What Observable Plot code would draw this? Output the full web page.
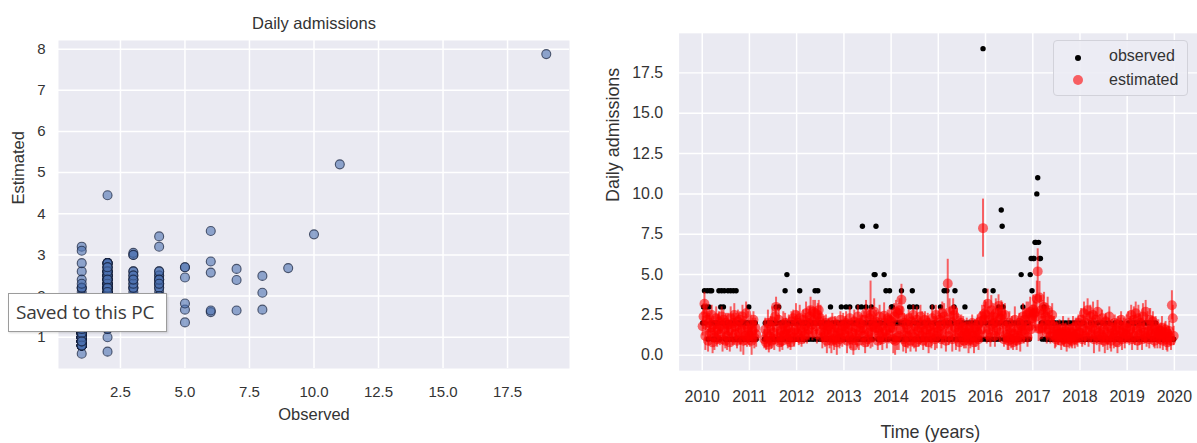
<!DOCTYPE html>
<html>
<head>
<meta charset="utf-8">
<script src="https://cdn.jsdelivr.net/npm/d3@7"></script>
<script src="https://cdn.jsdelivr.net/npm/@observablehq/plot@0.6"></script>
<style>
  html, body { margin: 0; padding: 0; background: #fff; width: 1197px; height: 443px; overflow: hidden; position: relative; }
  #left { position: absolute; left: 0; top: 0; }
  #right { position: absolute; left: 600px; top: 0; }
  #legend { position: absolute; left: 1053px; top: 40px; width: 135px; height: 56px; box-sizing: border-box;
    border: 1px solid #d2d2da; border-radius: 4px; background: rgba(236,236,244,0.9);
    font: 16px "Liberation Sans", Arial, sans-serif; color: #333; }
  #legend .mk { position: absolute; border-radius: 50%; }
  #legend .lt { position: absolute; left: 55px; line-height: 18px; }
  #toast { position: absolute; left: 8px; top: 293px; width: 159px; height: 39px; box-sizing: border-box;
    border: 1px solid #9c9c9c; background: #fff; box-shadow: 1px 1px 2px rgba(0,0,0,0.15);
    font: 19px "Open Sans", "Noto Sans", sans-serif; color: #3a3a3a; line-height: 36px; padding-left: 7px; white-space: nowrap; letter-spacing: -0.2px; }
</style>
</head>
<body>
<div id="left"></div>
<div id="right"></div>
<div id="legend">
  <span class="mk" style="left:21px;top:14px;width:6px;height:6px;background:#000"></span>
  <span class="lt" style="top:6px">observed</span>
  <span class="mk" style="left:19px;top:34px;width:10px;height:10px;background:rgba(255,0,0,0.6)"></span>
  <span class="lt" style="top:30px">estimated</span>
</div>
<div id="toast">Saved to this PC</div>
<script>
// ---------- data (weekly, one row per week; years 2010-2019) ----------
const years = [2010, 2011, 2012, 2013, 2014, 2015, 2016, 2017, 2018, 2019];

const observed = [
  [2,3,4,2,3,4,1,3,4,2,4,1,2,1,1,2,1,2,4,1,3,4,2,3,4,1,2,1,4,2,1,4,2,1,4,2,1,4,1,2,1,2,1,1,2,1,2,1,2,1,2,3],
  [1,2,1,1,2,1,2,1,null,null,null,null,null,null,null,null,1,2,1,1,2,2,1,2,1,2,1,1,2,3,2,1,3,1,2,1,1,2,1,4,2,5,1,2,1,1,2,1,2,1,1,2],
  [1,2,1,4,2,1,1,2,1,2,1,2,1,2,1,2,2,1,2,1,4,2,1,4,2,1,2,1,1,2,1,1,2,1,1,2,1,3,1,2,1,1,2,1,1,2,1,1,2,3,1,2],
  [1,2,3,1,2,1,3,1,2,1,1,2,1,2,1,3,1,2,1,3,8,1,2,1,3,2,1,1,2,2,3,1,2,5,5,8,2,1,1,2,1,2,1,1,5,2,4,1,2,1,4,2],
  [3,3,1,2,1,2,1,2,1,2,1,4,2,1,2,1,1,2,1,2,3,1,2,4,3,1,2,1,3,2,1,1,2,1,2,1,1,2,1,1,2,1,2,1,1,3,1,2,1,2,1,1],
  [1,2,3,1,2,1,4,2,1,4,2,1,2,1,2,1,2,3,4,1,2,1,2,1,1,2,1,2,1,3,1,2,1,1,2,1,1,2,1,1,2,1,1,2,1,1,2,1,2,19,1,4],
  [2,1,1,1,2,1,2,1,4,2,1,2,1,2,3,1,2,9,8,3,1,2,1,2,1,1,2,1,1,2,1,1,2,1,1,2,1,2,1,5,2,3,1,2,1,2,1,2,1,5,6,4],
  [6,6,7,7,10,11,7,6,6,2,1,2,3,1,2,1,2,1,2,1,1,2,1,2,2,1,1,2,1,1,2,1,1,2,1,1,2,1,1,2,1,2,1,1,2,1,1,2,1,1,2,1],
  [1,2,1,1,2,1,1,1,1,1,1,2,1,1,2,1,1,1,1,2,1,1,1,1,2,1,1,1,2,1,1,1,2,1,1,1,1,1,2,1,1,1,1,1,1,2,1,1,1,1,1,1],
  [1,2,1,1,2,1,1,2,1,2,1,1,2,1,2,1,1,2,1,1,2,1,2,1,1,2,1,1,2,1,1,2,1,1,1,1,1,1,1,1,1,1,1,1,1,1,1,1,1,1,1,1]
];

const estimated = [
  [1.8,2.4,3.2,1.2,2.6,2.2,0.9,2.0,1.7,1.4,2.5,0.8,1.9,1.1,1.5,2.3,1.0,1.6,2.1,1.3,1.8,2.4,1.0,2.2,1.6,0.9,2.0,1.2,1.9,1.5,0.8,2.3,1.7,1.1,2.0,2.5,1.3,1.8,0.9,2.1,1.4,2.2,1.0,1.6,2.4,0.9,1.9,1.2,2.6,1.1,1.7,1.3],
  [1.2,1.9,0.9,1.5,2.2,1.1,1.7,1.3,null,null,null,null,null,null,null,null,1.0,1.6,0.8,1.3,2.0,0.65,1.2,1.8,0.9,2.1,1.4,1.0,2.4,3.0,1.7,1.1,2.2,0.8,1.5,1.2,0.9,1.9,1.3,2.0,1.6,1.36,1.0,1.7,1.2,0.8,2.1,1.4,2.3,1.1,1.6,2.5],
  [1.4,2.0,1.1,2.3,1.7,1.0,1.5,2.2,1.2,1.8,2.6,1.3,2.0,1.6,2.4,2.8,1.9,1.4,2.7,2.2,2.6,1.8,1.3,2.5,2.8,2.1,2.3,1.5,1.1,1.9,1.4,1.2,2.0,0.9,1.6,1.8,1.1,1.7,0.9,2.1,1.3,1.0,1.9,1.2,0.8,1.7,1.4,1.0,2.2,1.5,1.1,1.8],
  [1.3,1.9,2.0,0.9,1.6,1.2,2.3,1.0,1.8,1.4,0.6,2.1,1.1,1.7,1.3,2.4,0.9,2.0,1.5,1.9,1.67,1.2,2.2,0.8,2.6,1.6,1.0,1.4,2.3,2.5,1.8,1.1,1.9,2.7,1.67,2.08,1.7,0.9,1.5,2.4,1.2,1.8,1.0,1.4,2.45,2.0,1.5,1.1,2.3,1.3,2.2,1.7],
  [2.1,1.7,1.0,2.4,0.9,2.7,1.1,2.6,1.2,2.8,1.6,3.45,2.3,1.0,2.0,1.4,0.8,1.9,1.2,2.3,1.6,0.9,2.1,1.3,2.5,1.1,1.8,0.8,2.2,1.5,1.0,1.7,2.4,1.2,1.9,0.9,1.5,2.2,1.1,1.6,2.0,0.8,1.8,1.3,1.1,2.3,1.4,1.9,1.0,2.5,1.2,1.7],
  [1.5,2.2,1.8,1.0,2.6,1.3,2.4,1.9,0.9,2.0,4.45,1.2,2.7,1.6,2.1,1.0,2.8,2.5,1.7,1.1,2.3,1.4,1.9,0.8,1.5,2.0,1.2,1.7,0.9,1.4,1.1,1.8,1.3,0.9,1.6,1.0,1.4,2.0,1.2,0.8,1.7,1.1,1.5,1.9,1.0,1.3,2.1,1.6,2.4,7.88,2.2,2.6],
  [2.5,1.3,3.2,1.6,2.2,1.1,2.8,1.8,2.4,2.0,1.2,2.6,1.5,2.1,3.05,1.4,2.3,2.68,2.49,1.9,1.0,2.5,1.3,1.8,1.1,0.9,2.0,1.4,1.0,1.7,0.8,1.3,2.2,1.1,0.9,1.6,1.2,2.0,1.0,1.82,1.5,2.4,1.3,2.2,1.6,2.5,1.1,2.6,1.8,2.7,1.61,2.3],
  [2.84,2.57,2.66,2.39,3.5,5.2,1.65,3.58,1.65,2.8,1.7,2.6,3.0,1.9,2.4,1.4,2.8,1.6,2.2,1.2,1.9,2.5,1.3,1.8,1.2,1.0,1.5,1.3,1.1,1.6,1.4,0.9,1.2,1.7,1.0,1.3,1.5,0.8,1.2,1.6,1.0,1.4,1.1,0.9,1.7,1.2,1.0,1.8,1.3,1.1,2.0,1.4],
  [1.4,2.2,1.0,1.7,2.6,1.2,2.0,1.5,2.8,1.1,1.9,2.4,1.3,1.7,2.5,1.0,1.6,2.2,1.2,2.7,1.4,1.0,1.9,1.3,2.3,1.1,1.6,0.9,2.1,1.3,1.0,1.8,2.4,1.2,0.9,1.7,1.4,1.1,2.0,1.3,1.6,0.8,1.9,1.2,1.5,2.2,1.0,1.4,1.8,1.1,1.3,1.7],
  [1.3,2.0,1.1,1.6,2.5,1.0,1.8,2.2,1.2,2.6,1.5,0.9,2.3,1.3,2.0,1.7,1.0,2.4,1.4,1.2,2.7,1.1,1.9,1.5,1.0,2.2,1.3,1.6,2.1,1.2,0.9,1.8,1.4,1.1,1.6,1.3,1.0,1.5,1.7,0.9,1.2,1.4,1.6,1.0,0.8,1.3,1.5,1.1,0.9,3.1,2.3,1.2]
];

const errorHalfWidth = [
  [0.6,0.8,0.7,0.9,0.6,0.5,0.7,0.6,0.8,0.5,0.6,0.7,0.5,0.8,0.6,0.7,0.5,0.9,0.6,0.7,0.5,0.6,0.8,0.6,0.7,0.5,0.6,0.9,0.7,0.5,0.6,0.7,0.8,0.5,0.6,0.7,0.6,0.8,0.5,0.7,0.6,0.5,0.8,0.6,0.7,0.9,0.5,0.6,0.7,0.6,1.0,0.7],
  [0.7,0.6,0.9,0.8,0.5,0.7,0.6,0.8,null,null,null,null,null,null,null,null,0.6,0.7,0.5,0.6,0.8,0.5,0.7,0.6,0.5,0.9,0.6,0.7,0.6,0.6,0.8,0.5,0.7,0.6,0.5,0.7,0.6,0.8,0.5,0.6,0.7,0.5,0.6,0.8,0.7,0.5,0.6,0.7,0.5,0.6,0.8,0.7],
  [0.6,0.7,0.5,0.8,0.6,0.5,0.7,0.6,0.5,0.8,0.7,0.6,0.5,0.7,0.6,0.8,0.6,0.5,0.7,0.6,0.8,0.5,0.6,0.7,0.6,0.5,0.8,0.6,0.7,0.5,0.6,0.7,0.5,0.8,0.6,0.5,0.7,0.6,0.8,0.5,0.6,0.7,0.5,0.6,0.8,0.5,0.7,0.6,0.5,0.7,0.6,0.8],
  [0.6,0.5,0.7,0.8,0.6,0.5,0.7,0.6,0.5,0.8,0.6,0.7,0.5,0.6,0.8,0.7,0.6,0.5,0.7,0.6,0.8,0.6,0.5,0.7,0.8,0.6,0.5,0.7,0.6,2.1,0.7,0.6,0.5,0.8,0.6,0.7,0.5,0.6,0.8,0.7,0.6,0.5,0.7,0.6,0.8,0.5,0.6,0.7,0.5,0.6,0.8,0.7],
  [0.7,0.6,0.9,0.8,0.9,0.7,0.8,0.6,0.9,0.7,0.6,0.95,0.7,0.8,0.6,0.9,0.7,0.6,0.8,0.5,0.6,0.7,0.5,0.8,0.6,0.7,0.5,0.6,0.8,0.7,0.5,0.6,0.7,0.5,0.8,0.6,0.7,0.5,0.6,0.8,0.6,0.7,0.5,0.6,0.7,0.8,0.6,0.5,0.7,0.6,0.8,0.6],
  [0.6,0.7,0.8,0.6,0.7,0.5,0.8,0.6,0.7,0.5,1.5,0.6,0.8,0.7,0.6,0.8,0.7,0.6,0.5,0.8,0.6,0.7,0.5,0.6,0.8,0.5,0.6,0.7,0.5,0.6,0.7,0.5,0.6,0.8,0.5,0.6,0.7,0.5,0.6,0.7,0.5,0.6,0.8,0.6,0.7,0.5,0.6,0.8,0.7,1.8,0.9,0.8],
  [0.8,0.6,0.9,0.7,0.8,0.6,0.9,0.7,0.8,0.6,0.7,0.9,0.6,0.8,0.7,0.6,0.8,0.7,0.8,0.6,0.5,0.7,0.6,0.5,0.8,0.6,0.7,0.5,0.6,0.7,0.5,0.6,0.8,0.5,0.6,0.7,0.5,0.6,0.8,0.6,0.7,0.8,0.6,0.7,0.5,0.8,0.6,0.7,0.8,0.9,0.7,0.8],
  [0.9,0.8,1.0,0.9,1.1,1.4,0.8,1.0,0.7,0.9,0.7,0.8,0.9,0.6,0.8,0.7,0.8,0.6,0.7,0.5,0.6,0.7,0.5,0.6,0.8,0.5,0.6,0.7,0.5,0.6,0.5,0.6,0.5,0.7,0.5,0.6,0.5,0.6,0.5,0.7,0.6,0.5,0.6,0.5,0.7,0.5,0.6,0.5,0.7,0.6,0.5,0.6],
  [0.6,0.7,0.5,0.8,0.7,0.6,0.8,0.5,0.7,0.6,0.8,0.7,0.5,0.6,0.8,0.9,0.7,0.5,0.6,0.7,0.5,0.8,0.6,0.7,0.5,0.6,0.7,0.8,0.5,0.6,0.7,0.5,0.6,0.8,0.7,0.5,0.6,0.7,0.5,0.8,0.6,0.7,0.5,0.6,0.8,0.5,0.7,0.6,0.5,0.7,0.6,0.8],
  [0.6,0.7,0.5,0.8,0.6,0.7,0.5,0.8,0.6,0.7,0.5,0.6,0.8,0.7,0.5,0.6,0.7,0.8,0.6,0.5,0.7,0.6,0.8,0.5,0.6,0.7,0.5,0.8,0.6,0.7,0.5,0.6,0.5,0.7,0.6,0.5,0.6,0.5,0.7,0.6,0.5,0.6,0.5,0.7,0.6,0.5,0.6,0.5,0.6,0.9,0.8,0.6]
];

// axis ticks
const leftXTicks = [2.5, 5.0, 7.5, 10.0, 12.5, 15.0, 17.5];
const leftYTicks = [1, 2, 3, 4, 5, 6, 7, 8];
const rightYTicks = [0, 2.5, 5, 7.5, 10, 12.5, 15, 17.5];
const yearTicks = [2010, 2011, 2012, 2013, 2014, 2015, 2016, 2017, 2018, 2019, 2020];

// texts
const leftTitle = "Daily admissions";
const leftXLabel = "Observed";
const leftYLabel = "Estimated";
const rightYLabel = "Daily admissions";
const rightXLabel = "Time (years)";

// ---------- build rows ----------
const rows = [];
years.forEach((Y, i) => {
  estimated[i].forEach((e, k) => {
    if (e == null) return;
    rows.push({date: new Date(Y, 0, 4 + 7 * k), obs: observed[i][k], est: e, err: errorHalfWidth[i][k]});
  });
});

const FONT = "Liberation Sans, Arial, sans-serif";
const TXT = "#333";

// ---------- left scatter ----------
const left = Plot.plot({
  width: 590, height: 443,
  marginLeft: 58, marginRight: 21, marginTop: 40, marginBottom: 75,
  style: {fontFamily: FONT, fontSize: "15px", color: TXT, background: "transparent"},
  x: {domain: [0.1, 19.9], ticks: leftXTicks, tickFormat: d3.format(".1f"), tickSize: 0, tickPadding: 18, label: null},
  y: {domain: [0.24, 8.21], ticks: leftYTicks, tickFormat: d => String(d), tickSize: 0, tickPadding: 13, label: null},
  marks: [
    Plot.frame({fill: "#eaeaf2", stroke: null}),
    Plot.ruleX(leftXTicks, {stroke: "#fff", strokeWidth: 1.5}),
    Plot.ruleY(leftYTicks, {stroke: "#fff", strokeWidth: 1.5}),
    Plot.dot(rows, {x: "obs", y: "est", r: 4.5, fill: "#4c72b0", fillOpacity: 0.6, stroke: "#14203a", strokeOpacity: 0.7, strokeWidth: 1.1}),
    Plot.text([leftTitle], {frameAnchor: "top", dy: -23, fontSize: 16.5, fill: TXT}),
    Plot.text([leftXLabel], {frameAnchor: "bottom", dy: 51, fontSize: 16.5, fill: TXT}),
    Plot.text([leftYLabel], {frameAnchor: "left", dx: -40, rotate: -90, fontSize: 16.5, fill: TXT})
  ]
});
document.getElementById("left").append(left);

// ---------- right time series ----------
const right = Plot.plot({
  width: 600, height: 443,
  marginLeft: 79, marginRight: 0, marginTop: 33, marginBottom: 71,
  style: {fontFamily: FONT, fontSize: "16px", color: TXT, background: "transparent", overflow: "visible"},
  x: {type: "time", domain: [new Date(2009, 6, 6), new Date(2020, 5, 28)],
      ticks: yearTicks.map(y => new Date(y, 0, 1)), tickFormat: d => String(d.getFullYear()),
      tickSize: 0, tickPadding: 20, label: null},
  y: {domain: [-0.95, 19.95], ticks: rightYTicks, tickFormat: d3.format(".1f"), tickSize: 0, tickPadding: 16, label: null},
  marks: [
    Plot.frame({fill: "#eaeaf2", stroke: null}),
    Plot.ruleX(yearTicks.map(y => new Date(y, 0, 1)), {stroke: "#fff", strokeWidth: 1.5}),
    Plot.ruleY(rightYTicks, {stroke: "#fff", strokeWidth: 1.5}),
    Plot.dot(rows, {x: "date", y: "obs", r: 2.7, fill: "#000"}),
    Plot.ruleX(rows, {x: "date", y1: d => d.est - d.err, y2: d => d.est + d.err, stroke: "red", strokeOpacity: 0.6, strokeWidth: 2}),
    Plot.dot(rows, {x: "date", y: "est", r: 5, fill: "red", fillOpacity: 0.58}),
    Plot.text([rightYLabel], {frameAnchor: "left", dx: -66, rotate: -90, fontSize: 18, fill: TXT}),
    Plot.text([rightXLabel], {frameAnchor: "bottom", dx: -8, dy: 68, fontSize: 18, fill: TXT})
  ]
});
document.getElementById("right").append(right);
</script>
</body>
</html>
